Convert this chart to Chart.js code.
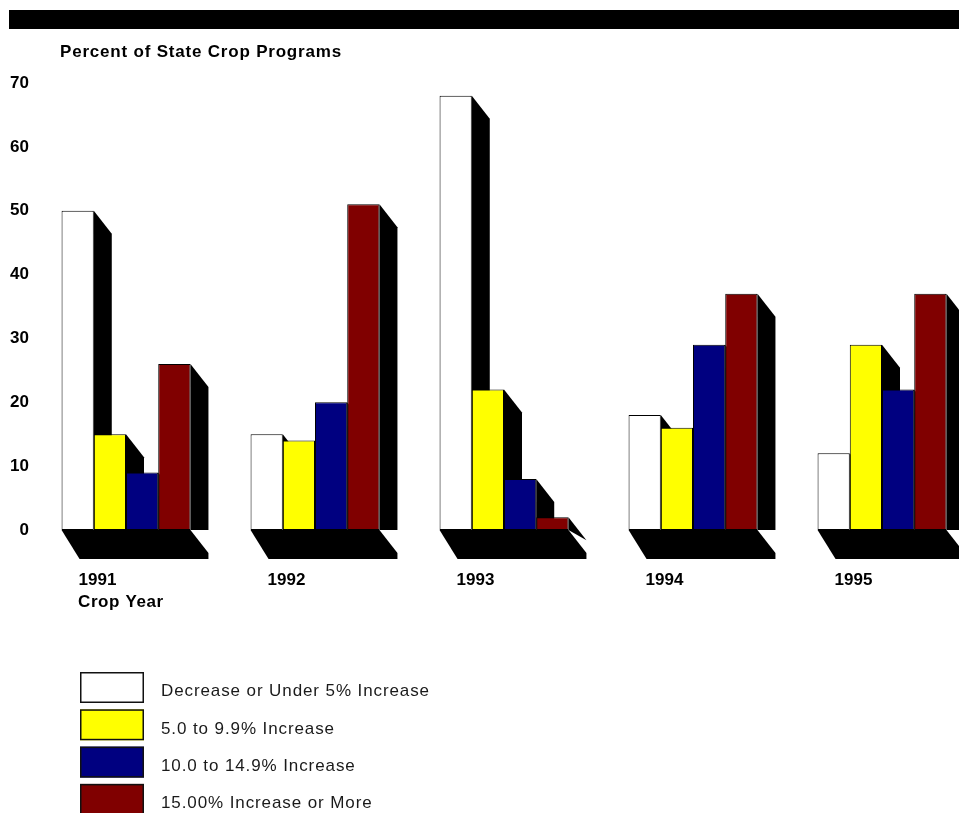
<!DOCTYPE html>
<html>
<head>
<meta charset="utf-8">
<title>Percent of State Crop Programs</title>
<script src="https://cdn.jsdelivr.net/npm/chart.js@4"></script>
<style>
  html, body { margin: 0; padding: 0; background: #fff; }
</style>
</head>
<body>
<canvas id="cropChart" width="959" height="813"></canvas>
<script>
const years = ["1991", "1992", "1993", "1994", "1995"];

const seriesNames = [
  "Decrease or Under 5% Increase",
  "5.0 to 9.9% Increase",
  "10.0 to 14.9% Increase",
  "15.00% Increase or More",
];
const seriesColors = ["#ffffff", "#ffff00", "#000080", "#800000"];

// percent of state crop programs per year
const underFive = [50, 15, 68, 18, 12];
const fiveToTen = [15, 14, 22, 16, 29];
const tenToFifteen = [9, 20, 8, 29, 22];
const fifteenPlus = [26, 51, 2, 37, 37];

const yMin = 0;
const yMax = 70;
const yStep = 10;

// depth of the black extrusion behind each bar
const DEPTH_X = 18;
const DEPTH_Y = 23;
const FLOOR_DEPTH = 29;

const boldFont = "bold 17px 'Liberation Sans', Arial, sans-serif";

const shadow3d = {
  id: "shadow3d",
  beforeDatasetsDraw(chart) {
    const ctx = chart.ctx;
    const metas = chart.getSortedVisibleDatasetMetas();
    ctx.save();
    ctx.fillStyle = "#000";
    // floor slab under every year group
    years.forEach((yr, i) => {
      const first = metas[0].data[i].getProps(["x", "base", "width"], true);
      const last = metas[metas.length - 1].data[i].getProps(["x", "width"], true);
      const left = first.x - first.width / 2;
      const right = last.x + last.width / 2;
      const base = first.base;
      ctx.beginPath();
      ctx.moveTo(left, base);
      ctx.lineTo(left + DEPTH_X, base + FLOOR_DEPTH);
      ctx.lineTo(right + DEPTH_X, base + FLOOR_DEPTH);
      ctx.lineTo(right + DEPTH_X, base + DEPTH_Y);
      ctx.lineTo(right, base);
      ctx.closePath();
      ctx.fill();
    });
    // side faces of the bars
    metas.forEach((meta) => {
      meta.data.forEach((bar) => {
        const p = bar.getProps(["x", "y", "base", "width"], true);
        const right = p.x + p.width / 2;
        ctx.beginPath();
        ctx.moveTo(right, p.y);
        ctx.lineTo(right + DEPTH_X, p.y + DEPTH_Y);
        ctx.lineTo(right + DEPTH_X, Math.max(p.base, p.y + DEPTH_Y));
        ctx.lineTo(right, p.base);
        ctx.closePath();
        ctx.fill();
      });
    });
    ctx.restore();
  },
};

const decorations = {
  id: "decorations",
  afterDraw(chart) {
    const ctx = chart.ctx;
    ctx.save();

    // heavy rule across the top
    ctx.fillStyle = "#000";
    ctx.fillRect(9, 10, 950, 19);

    ctx.fillStyle = "#000";
    ctx.font = boldFont;
    ctx.textAlign = "left";
    ctx.textBaseline = "alphabetic";
    ctx.letterSpacing = "0.8px";
    ctx.fillText("Percent of State Crop Programs", 60, 57);
    ctx.letterSpacing = "0.6px";
    ctx.fillText("Crop Year", 78, 606.5);

    // legend, one row per series
    ctx.font = "17px 'Liberation Sans', Arial, sans-serif";
    ctx.letterSpacing = "0.9px";
    chart.data.datasets.forEach((ds, i) => {
      const top = 672 + i * 37.3;
      ctx.fillStyle = ds.backgroundColor;
      ctx.fillRect(80, top, 64, 31);
      ctx.strokeStyle = "#111";
      ctx.lineWidth = 1.5;
      ctx.strokeRect(80.75, top + 0.75, 62.5, 29.5);
      ctx.fillStyle = "#1a1a1a";
      ctx.fillText(ds.label, 161, top + 24.3);
    });
    ctx.restore();
  },
};

const series = [underFive, fiveToTen, tenToFifteen, fifteenPlus];

const data = {
  labels: years,
  datasets: series.map((values, i) => ({
    label: seriesNames[i],
    data: values,
    backgroundColor: seriesColors[i],
    borderColor: "#000",
    borderWidth: 1,
    borderSkipped: false,
    barPercentage: 1,
    categoryPercentage: 0.682,
    clip: false,
  })),
};

const config = {
  type: "bar",
  data: data,
  options: {
    responsive: false,
    animation: false,
    layout: {
      padding: { top: 83, right: 77, left: 0, bottom: 0 },
    },
    scales: {
      x: {
        offset: false,
        grid: { display: false, drawTicks: false },
        border: { display: false },
        ticks: {
          color: "#000",
          font: { family: "'Liberation Sans', Arial, sans-serif", size: 17, weight: "bold" },
          padding: 40,
          labelOffset: -28.5,
          maxRotation: 0,
        },
        afterFit: (scale) => {
          scale.height = 283;
        },
      },
      y: {
        min: yMin,
        max: yMax,
        grid: { display: false, drawTicks: false },
        border: { display: false },
        ticks: {
          stepSize: yStep,
          color: "#000",
          font: { family: "'Liberation Sans', Arial, sans-serif", size: 17, weight: "bold" },
          padding: 97,
        },
        afterFit: (scale) => {
          // the wide tick padding only pushes labels left, not the plot down
          scale.width = 126;
          scale.paddingTop = 10;
          scale.paddingBottom = 10;
        },
      },
    },
    plugins: {
      legend: { display: false },
      tooltip: { enabled: false },
    },
  },
  plugins: [shadow3d, decorations],
};

const cropChart = new Chart(document.getElementById("cropChart").getContext("2d"), config);
</script>
</body>
</html>
